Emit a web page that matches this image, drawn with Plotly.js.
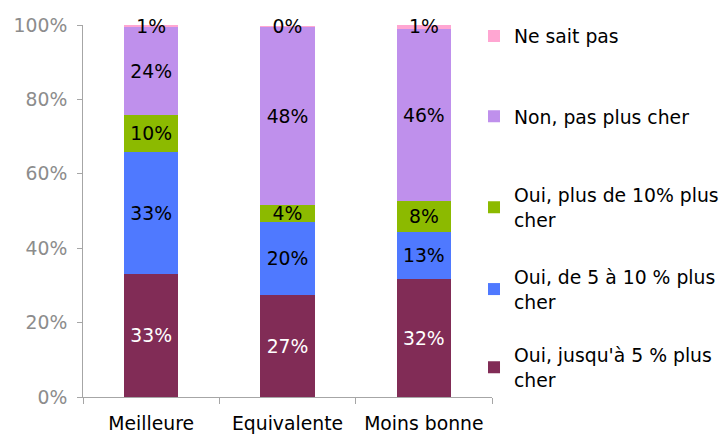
<!DOCTYPE html>
<html>
<head>
<meta charset="utf-8">
<script src="https://cdn.plot.ly/plotly-3.0.1.min.js"></script>
<style>
  body { margin: 0; background: #fff; }
  #chart { width: 728px; height: 434px; }
</style>
</head>
<body>
<div id="chart"></div>
<script>
// Catégories et séries (parts en %)
const categories = ['Meilleure', 'Equivalente', 'Moins bonne'];
const jusqua5 = [33.0, 27.4, 31.7];
const de5a10 = [32.9, 19.7, 12.7];
const plusDe10 = [9.9, 4.4, 8.2];
const nonPasPlus = [23.6, 48.0, 46.4];
const neSaitPas = [0.6, 0.3, 1.0];

const seriesNames = [
    "Oui, jusqu'à 5 % plus<br>cher",
    'Oui, de 5 à 10 % plus<br>cher',
    'Oui, plus de 10% plus<br>cher',
    'Non, pas plus cher',
    'Ne sait pas'
];

const police = 'DejaVu Sans, Verdana, sans-serif';
const taille = 18.8;

function serie(valeurs, nom, couleur, texte, legende) {
    return {
        type: 'bar',
        x: categories,
        y: valeurs,
        name: nom,
        legend: legende,
        marker: { color: couleur },
        texttemplate: '%{y:.0f}%',
        textposition: 'inside',
        insidetextanchor: 'middle',
        constraintext: 'none',
        textangle: 0,
        cliponaxis: false,
        textfont: { family: police, size: taille, color: texte },
        hoverinfo: 'skip'
    };
}

const traces = [
    serie(jusqua5, seriesNames[0], '#812c56', '#ffffff', 'legend5'),
    serie(de5a10, seriesNames[1], '#4f79ff', '#000000', 'legend4'),
    serie(plusDe10, seriesNames[2], '#8cba00', '#000000', 'legend3'),
    serie(nonPasPlus, seriesNames[3], '#bf90ec', '#000000', 'legend2'),
    serie(neSaitPas, seriesNames[4], '#ffa6d2', '#000000', 'legend')
];

function legende(y) {
    return {
        x: 0.956, xanchor: 'left',
        y: y, yanchor: 'middle',
        bgcolor: 'rgba(0,0,0,0)',
        font: { family: police, size: taille, color: '#000' }
    };
}

const layout = {
    width: 728,
    height: 434,
    margin: { l: 83, r: 236, t: 25, b: 37, autoexpand: false },
    paper_bgcolor: '#fff',
    plot_bgcolor: '#fff',
    barmode: 'stack',
    bargap: 0.6,
    font: { family: police, size: taille },
    showlegend: true,
    legend: legende(0.97),
    legend2: legende(0.754),
    legend3: legende(0.51),
    legend4: legende(0.29),
    legend5: legende(0.08),
    xaxis: {
        type: 'category',
        showline: true,
        linecolor: '#a6a6a6',
        ticks: 'outside',
        tickson: 'boundaries',
        ticklen: 6,
        tickcolor: '#a6a6a6',
        ticklabelstandoff: 9,
        tickfont: { family: police, size: taille, color: '#000' },
        showgrid: false
    },
    yaxis: {
        range: [0, 100],
        dtick: 20,
        ticksuffix: '%',
        showline: true,
        linecolor: '#a6a6a6',
        ticks: 'outside',
        ticklen: 5,
        tickcolor: '#a6a6a6',
        ticklabelstandoff: 6,
        showgrid: false,
        zeroline: false,
        tickfont: { family: police, size: taille, color: '#8c8c8c' }
    }
};

Plotly.newPlot('chart', traces, layout, { displayModeBar: false, staticPlot: true });
</script>
</body>
</html>
